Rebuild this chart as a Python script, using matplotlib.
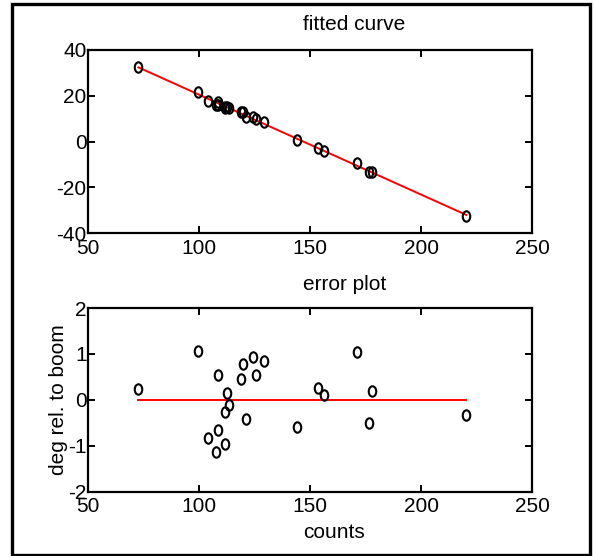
import numpy as np
import matplotlib
matplotlib.use("Agg")
import matplotlib.pyplot as plt
from matplotlib.path import Path
from matplotlib.patches import Rectangle
from matplotlib.transforms import Affine2D

plt.rcParams['font.family'] = ['Liberation Sans', 'DejaVu Sans']
plt.rcParams['axes.unicode_minus'] = False

# measured counts and boom angles
counts = [72.7, 99.7, 108.7, 112.4, 113.3, 111.5, 119.6, 118.7, 124.1, 125.9,
          129.2, 121.2, 108.7, 104.2, 107.7, 111.5, 144.2, 153.8, 156.5, 171.0,
          178.0, 176.4, 220.4]
angle = [32.6, 21.7, 17.2, 15.2, 14.6, 15.2, 12.7, 12.8, 10.9, 9.7,
         8.6, 10.8, 16.0, 17.8, 16.0, 14.5, 0.6, -2.8, -4.1, -9.5,
         -13.4, -13.4, -32.4]
# residuals of the linear fit
error = [0.23, 1.06, 0.53, 0.14, -0.11, -0.26, 0.78, 0.46, 0.94, 0.53,
         0.85, -0.43, -0.65, -0.83, -1.13, -0.97, -0.59, 0.25, 0.11, 1.03,
         0.18, -0.50, -0.33]
# linear fit coefficients: angle = fit_slope * counts + fit_intercept
fit_slope = -0.4367
fit_intercept = 64.15

xticks = [50, 100, 150, 200, 250]
top_yticks = [-40, -20, 0, 20, 40]
bot_yticks = [-2, -1, 0, 1, 2]

W, H = 594, 556
fig = plt.figure(figsize=(W / 100, H / 100), dpi=100)

ell = Path.unit_circle().transformed(Affine2D().scale(0.72, 1.0))

def fx(px):
    return px / W

def fy(py):
    return 1 - py / H

FS = 15

def style(ax, yticks):
    ax.set_xlim(50, 250)
    ax.set_ylim(yticks[0], yticks[-1])
    ax.set_xticks(xticks)
    ax.set_yticks(yticks)
    ax.tick_params(direction='in', top=True, right=True, length=5, width=1.4,
                   labelsize=FS)
    ax.tick_params(axis='x', pad=4)
    ax.tick_params(axis='y', pad=1)
    for s in ax.spines.values():
        s.set_linewidth(1.6)

ax1 = fig.add_axes([fx(88), fy(233), fx(532) - fx(88), fy(50) - fy(233)])
xs = np.array(counts)
xl = np.array([xs.min(), xs.max()])
ax1.plot(xl, fit_slope * xl + fit_intercept, color='red', lw=1.4, zorder=2)
ax1.plot(counts, angle, linestyle='none', marker=ell, markersize=7.5,
         markerfacecolor='none', markeredgecolor='black', markeredgewidth=1.5,
         zorder=3)
style(ax1, top_yticks)

ax2 = fig.add_axes([fx(88), fy(491.5), fx(532) - fx(88), fy(308) - fy(491.5)])
ax2.plot(xl, [0, 0], color='red', lw=1.4, zorder=2)
ax2.plot(counts, error, linestyle='none', marker=ell, markersize=7.5,
         markerfacecolor='none', markeredgecolor='black', markeredgewidth=1.5,
         zorder=3)
style(ax2, bot_yticks)

fig.text(fx(303), fy(24.5), 'fitted curve', ha='left', va='center', fontsize=FS)
fig.text(fx(303), fy(285), 'error plot', ha='left', va='center', fontsize=FS)
fig.text(fx(303), fy(533), 'counts', ha='left', va='center', fontsize=FS)
fig.text(fx(58), fy(400), 'deg rel. to boom', rotation=90, ha='center',
         va='center', fontsize=FS)

fig.patches.append(Rectangle((fx(12), fy(554.5)), fx(590) - fx(12),
                             fy(4.2) - fy(554.5), transform=fig.transFigure,
                             fill=False, edgecolor='black', linewidth=2.4))

fig.savefig('out.png', dpi=100)
